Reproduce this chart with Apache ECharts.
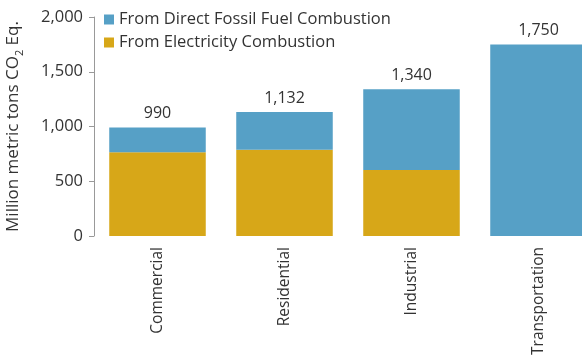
<!DOCTYPE html>
<html><head><meta charset="utf-8">
<script src="https://cdn.jsdelivr.net/npm/echarts@6/dist/echarts.min.js"></script>
<style>html,body{margin:0;padding:0;background:#fff}#c{width:582px;height:361px}</style>
</head><body><div id="c"></div>
<script>
const categories = ['Commercial', 'Residential', 'Industrial', 'Transportation'];
const electricity = [764, 788, 603, 0];
const directFossil = [226, 344, 737, 1750];
const totals = [990, 1132, 1340, 1750];
const yTicks = [0, 500, 1000, 1500, 2000];

const FONT = '"Open Sans", "Noto Sans", sans-serif';
const chart = echarts.init(document.getElementById('c'));
chart.setOption({
  animation: false,
  textStyle: { fontFamily: FONT },
  legend: {
    orient: 'vertical', left: 99, top: 6, itemWidth: 10, itemHeight: 10, itemGap: 6,
    icon: 'rect',
    textStyle: { fontSize: 16.5, lineHeight: 16, color: '#333', fontFamily: FONT },
    data: ['From Direct Fossil Fuel Combustion', 'From Electricity Combustion']
  },
  grid: { left: 94, right: -20, top: 17, bottom: 125, outerBoundsMode: 'none', containLabel: false },
  xAxis: {
    type: 'category', data: categories,
    axisLine: { show: false }, axisTick: { show: false },
    axisLabel: { rotate: 90, fontSize: 15.5, color: '#333', margin: 11, fontFamily: FONT }
  },
  yAxis: {
    type: 'value', min: yTicks[0], max: yTicks[yTicks.length - 1], interval: 500,
    name: '{a|Million metric tons CO}{s|2}{a| Eq.}',
    nameLocation: 'middle', nameGap: 69, nameRotate: 90,
    nameTextStyle: { rich: { a: { fontSize: 17, color: '#333', fontFamily: FONT }, s: { fontSize: 11, color: '#333', fontFamily: FONT, padding: [12, 0, 0, 0] } } },
    axisLine: { show: true, lineStyle: { color: '#999' } },
    axisTick: { show: true, inside: false, length: 5, lineStyle: { color: '#999' } },
    splitLine: { show: false },
    axisLabel: { fontSize: 16.5, color: '#333', margin: 11, fontFamily: FONT,
      formatter: v => v.toLocaleString('en-US') }
  },
  series: [
    { name: 'From Electricity Combustion', type: 'bar', stack: 's', data: electricity,
      barCategoryGap: '24%', itemStyle: { color: '#d7a718' } },
    { name: 'From Direct Fossil Fuel Combustion', type: 'bar', stack: 's', data: directFossil,
      barCategoryGap: '24%', itemStyle: { color: '#56a0c6' },
      label: { show: true, position: 'top', distance: 6, fontSize: 16, color: '#333', fontFamily: FONT,
        formatter: p => totals[p.dataIndex].toLocaleString('en-US') } }
  ]
});
</script></body></html>
